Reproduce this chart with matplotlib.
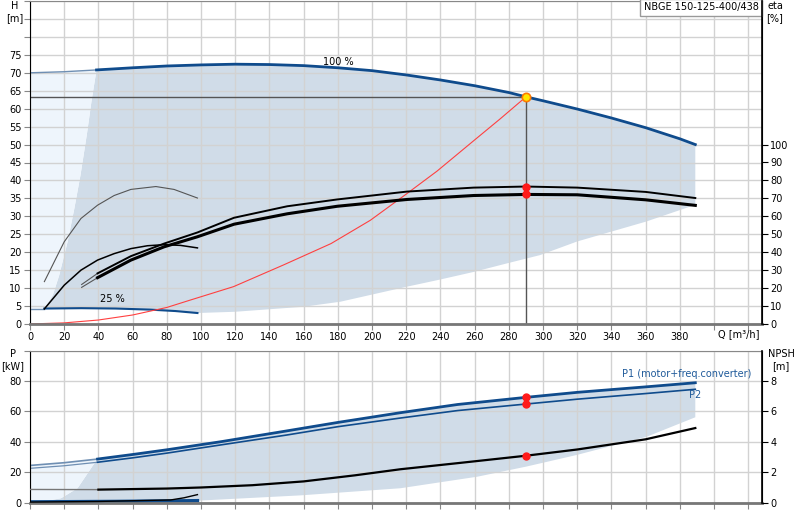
import numpy as np
import matplotlib
matplotlib.use("Agg")
import matplotlib.pyplot as plt

plt.rcParams['font.family'] = ['DejaVu Sans']
plt.rcParams['font.size'] = 7

# --- data ---
# 100 % speed head curve
q_h100 = [0, 20, 38.9, 60, 80, 100, 120, 140, 160, 180, 200, 220, 240, 260, 280, 290, 300, 320, 340, 360, 380, 389]
h100 = [70, 70.3, 70.8, 71.4, 71.9, 72.2, 72.4, 72.3, 72.0, 71.4, 70.6, 69.4, 68.0, 66.4, 64.5, 63.3, 62.2, 59.9, 57.4, 54.7, 51.6, 50]
# 25 % speed head curve
q_h25 = [0, 8.4, 30, 50, 70, 85, 97.9]
h25 = [4.3, 4.3, 4.4, 4.3, 4.0, 3.6, 3.05]
# min flow boundary (left) and lower boundary of operating range
q_left = [8.4, 13.4, 17.1, 22, 25.9, 29.5, 33.3, 36, 38.9]
h_left = [4.3, 8.1, 13.6, 22.9, 32.1, 41.4, 53, 62.2, 70.8]
q_low = [97.9, 120, 160, 181.5, 201, 220.5, 240, 259.4, 279, 298.3, 320, 360, 389]
h_low = [3.05, 3.4, 4.8, 6.2, 8.3, 10.4, 12.4, 14.5, 16.9, 19.2, 23.0, 28.5, 33.2]
# system curve
q_sys = [0, 20, 40, 60, 80, 94, 119, 148, 176, 199, 220, 238, 260, 275, 290]
h_sys = [0, 0.3, 1.1, 2.5, 4.6, 6.7, 10.4, 16.4, 22.4, 28.9, 36.2, 42.6, 51.3, 57.2, 63.3]
# efficiency curves, 100 % speed
q_eta = [30.2, 39.5, 59, 78.4, 97.9, 119.3, 150.4, 179.6, 220.5, 259.4, 290, 320, 360, 389]
eta_pump = [22, 28.2, 37.8, 44.8, 51, 59.2, 65.6, 69.4, 73.8, 76, 76.6, 76, 73.6, 70.2]
eta_total = [20.4, 25.8, 35.6, 43, 48.6, 55.6, 61.4, 65.6, 69.4, 71.6, 72.2, 72, 69.2, 66.1]
# efficiency curves, 25 % speed
q_eta25a = [8.4, 20, 29.8, 39.5, 49.2, 59, 73.6, 84.2, 97.9]
eta25_pump = [23.6, 45.8, 58.8, 66.2, 71.6, 75, 76.6, 75, 70.2]
q_eta25b = [8.4, 20, 29.8, 39.5, 49.2, 59, 68.7, 78.4, 88, 97.9]
eta25_total = [8.4, 21.6, 30, 35.6, 39.2, 42, 43.6, 44.2, 43.8, 42.4]
# duty point
q_duty = 290
h_duty = 63.3

# power curves
q_p = [0, 20, 39.5, 60, 80, 111.5, 150, 180, 216.6, 250, 290, 320, 360, 389]
p1 = [24.5, 26.3, 28.7, 31.7, 34.8, 40.1, 47.2, 52.8, 59.2, 64.6, 69.3, 72.6, 76.2, 78.9]
p2 = [22.6, 24.3, 26.6, 29.5, 32.6, 38.0, 44.5, 50.0, 55.7, 60.6, 64.9, 68.1, 71.8, 74.6]
q_p25 = [0, 50, 97.9]
p25 = [0.5, 0.8, 1.3]
q_pleft = [39.5, 36.5, 33.7, 27.8, 18.1, 5]
p_left = [28.7, 24, 19.3, 9.5, 2.9, 0.3]
q_plow = [97.9, 158, 216.6, 261.6, 290, 319.7, 360.6, 389]
p_low = [1.3, 4.8, 9.5, 17.1, 23.7, 31.4, 43.4, 56.2]
# NPSH
q_npsh = [0, 40, 80, 100, 130, 160, 190, 216.6, 250, 290, 320, 360, 389]
npsh = [0.87, 0.86, 0.93, 1.0, 1.15, 1.4, 1.8, 2.2, 2.6, 3.09, 3.5, 4.17, 4.91]
q_npsh25 = [0, 40, 82.3, 90, 97.9]
npsh25 = [0.04, 0.08, 0.18, 0.32, 0.53]

BLUE = '#0f4b8c'
GRAY_FILL = '#d0dce8'
LIGHT_FILL = '#eef5fc'
GRID = '#d2d2d2'

fig = plt.figure(figsize=(8, 5.2), dpi=100)
ax = fig.add_axes([0.0375, 0.377, 0.915, 0.621])
ax2 = ax.twinx()
bx = fig.add_axes([0.0375, 0.0333, 0.915, 0.2923])
bx2 = bx.twinx()

q_h100 = np.array(q_h100); h100 = np.array(h100)
thin = q_h100 <= 38.9
thick = q_h100 >= 38.9

# ----- top chart: operating range -----
poly_q = np.concatenate([q_left, q_h100[thick], [389], q_low[::-1], q_h25[1:][::-1]])
poly_h = np.concatenate([h_left, h100[thick], [33.2], h_low[::-1], h25[1:][::-1]])
ax.fill(poly_q, poly_h, color=GRAY_FILL, lw=0, zorder=0.2)
lq = np.concatenate([[0], q_left, q_h100[thin][::-1]])
lh = np.concatenate([[4.3], h_left, h100[thin][::-1]])
ax.fill(lq, lh, color=LIGHT_FILL, lw=0, zorder=0.2)

ax.plot(q_h100[thin], h100[thin], color='#6f8fb3', lw=1)
ax.plot(q_h100[thick], h100[thick], color=BLUE, lw=2)
ax.plot(q_h25[:2], h25[:2], color='#6f8fb3', lw=1)
ax.plot(q_h25[1:], h25[1:], color=BLUE, lw=1.5)
ax.plot(q_sys, h_sys, color='#ff4040', lw=0.8)
ax.plot([0, q_duty], [h_duty, h_duty], color='#555555', lw=1)
ax.plot([q_duty, q_duty], [0, h_duty], color='#555555', lw=1)

ax.text(180, 72.9, '100 %', ha='center', va='center')
ax.text(48.3, 6.9, '25 %', ha='center', va='center')
ax.text(426, 89.6, 'NBGE 150-125-400/438', ha='right', va='top',
        bbox=dict(boxstyle='square,pad=0.35', fc='white', ec='#999999', lw=1))

# efficiency on right axis
q_eta = np.array(q_eta)
e_thin = q_eta <= 39.5
e_thick = q_eta >= 39.5
ax2.plot(q_eta[e_thin], np.array(eta_pump)[e_thin], color='#555555', lw=0.8)
ax2.plot(q_eta[e_thick], np.array(eta_pump)[e_thick], color='black', lw=1.4)
ax2.plot(q_eta[e_thin], np.array(eta_total)[e_thin], color='#555555', lw=0.8)
ax2.plot(q_eta[e_thick], np.array(eta_total)[e_thick], color='black', lw=2.2)
ax2.plot(q_eta25a, eta25_pump, color='#555555', lw=0.8)
ax2.plot(q_eta25b, eta25_total, color='black', lw=1.1)
ax2.plot([q_duty, q_duty], [np.interp(q_duty, q_eta, eta_pump), np.interp(q_duty, q_eta, eta_total)],
         'o', color='#ff1a1a', ms=5, zorder=5)
ax2.plot([q_duty], [h_duty * 2], 'o', mfc='#ffe600', mec='#ff7a00', mew=1.2, ms=6, zorder=6)

ax.set_xlim(0, 428)
ax.set_ylim(0, 90)
ax2.set_ylim(0, 180)
ax.set_xticks(np.arange(0, 421, 20))
ax.set_xticklabels([str(v) if v <= 380 else '' for v in range(0, 421, 20)])
ax.set_yticks(np.arange(0, 91, 5))
ax.set_yticklabels([str(v) if v <= 75 else '' for v in range(0, 91, 5)])
ax2.set_yticks(np.arange(0, 101, 10))
ax.grid(True, color=GRID, lw=1)
ax.set_axisbelow(True)
ax.text(414.5, -2.9, 'Q [m³/h]', ha='center', va='center')

# ----- bottom chart: power and NPSH -----
bpoly_q = np.concatenate([q_pleft, q_p25[1:], q_plow[1:], [389], np.array(q_p)[2:][::-1]])
bpoly_p = np.concatenate([p_left, p25[1:], p_low[1:], [78.9], np.array(p1)[2:][::-1]])
bx.fill(bpoly_q, bpoly_p, color=GRAY_FILL, lw=0, zorder=0.2)
blq = np.concatenate([[0], q_pleft[::-1], q_p[:3][::-1]])
blp = np.concatenate([[0], p_left[::-1], p1[:3][::-1]])
bx.fill(blq, blp, color=LIGHT_FILL, lw=0, zorder=0.2)

bx.plot(q_p[:3], p1[:3], color='#6f8fb3', lw=1.2)
bx.plot(q_p[2:], p1[2:], color=BLUE, lw=2)
bx.plot(q_p[:3], p2[:3], color='#6f8fb3', lw=0.9)
bx.plot(q_p[2:], p2[2:], color=BLUE, lw=1.2)
bx.plot(q_p25, p25, color=BLUE, lw=2.5)
bx.plot([q_duty, q_duty], [np.interp(q_duty, q_p, p1), np.interp(q_duty, q_p, p2)],
        'o', color='#ff1a1a', ms=5, zorder=5)
bx.text(422, 84.5, 'P1 (motor+freq.converter)', ha='right', va='center', color='#1f5a9a')
bx.text(388.8, 70.9, 'P2', ha='center', va='center', color='#1f5a9a')

bx2.plot(q_npsh[:2], npsh[:2], color='#777777', lw=1)
bx2.plot(q_npsh[1:], npsh[1:], color='black', lw=1.6)
bx2.plot(q_npsh25, npsh25, color='black', lw=1)
bx2.plot([q_duty], [np.interp(q_duty, q_npsh, npsh)], 'o', color='#ff1a1a', ms=5, zorder=5)

bx.set_xlim(0, 428)
bx.set_ylim(0, 100)
bx2.set_ylim(0, 10)
bx.set_xticks(np.arange(0, 421, 20))
bx.set_xticklabels([])
bx.set_yticks(np.arange(0, 101, 20))
bx.set_yticklabels([str(v) if v <= 80 else '' for v in range(0, 101, 20)])
bx2.set_yticks(np.arange(0, 9, 2))
bx.grid(True, color=GRID, lw=1)
bx.set_axisbelow(True)

# axis styling
for a, a2 in [(ax, ax2), (bx, bx2)]:
    a.spines['top'].set_color('#888888')
    a.spines['bottom'].set_color('#777777')
    a.spines['bottom'].set_linewidth(2)
    a.spines['left'].set_color('black')
    a2.spines['right'].set_color('black')
    for s in ['top', 'bottom', 'left']:
        a2.spines[s].set_visible(False)
    a2.spines['right'].set_linewidth(1.2)
    a.tick_params(axis='both', direction='out', length=4, color='#888888', pad=2, labelsize=7)
    a2.tick_params(axis='y', direction='out', length=4, color='black', pad=2, labelsize=7)

fig.text(15 / 800, 1 - 1 / 520, 'H\n[m]', ha='center', va='top', fontsize=7)
fig.text(775 / 800, 1 - 1 / 520, 'eta\n[%]', ha='center', va='top', fontsize=7)
fig.text(13 / 800, 1 - 349 / 520, 'P\n[kW]', ha='center', va='top', fontsize=7)
fig.text(781 / 800, 1 - 349 / 520, 'NPSH\n[m]', ha='center', va='top', fontsize=7)

fig.savefig('out.png', dpi=100)
